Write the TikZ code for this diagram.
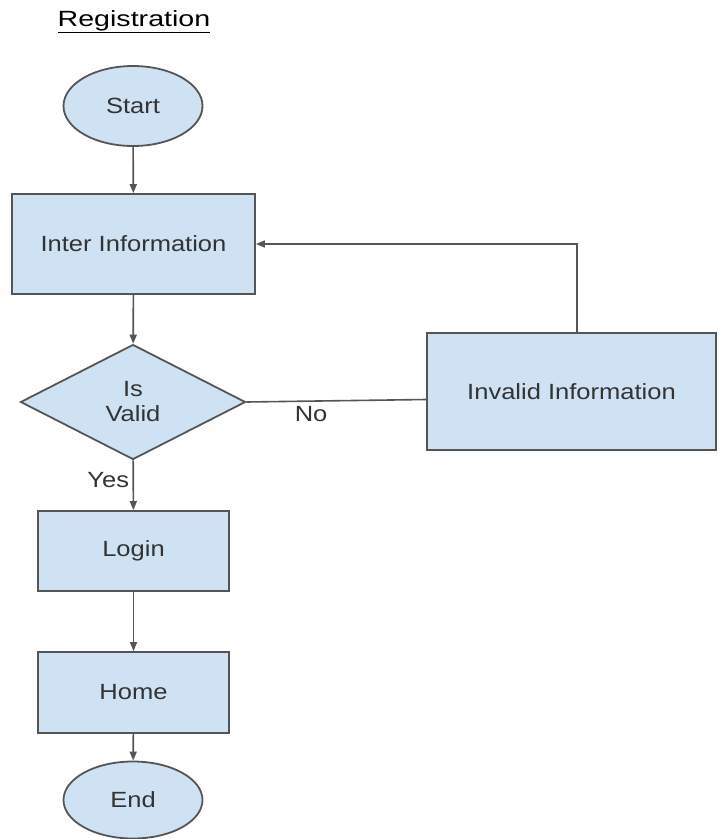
\documentclass[tikz,border=0pt]{standalone}
\usepackage{graphicx}
\usepackage{fontspec}
\setmainfont{Liberation Sans}
\usetikzlibrary{shapes.geometric,arrows.meta,calc}
\definecolor{boxfill}{HTML}{CFE2F3}
\definecolor{boxline}{HTML}{555555}
\definecolor{txt}{HTML}{333333}
\newcommand{\stretchtxt}[1]{\scalebox{1.16}[1]{#1}}
\begin{document}
\begin{tikzpicture}[x=1pt,y=-1pt,
  every node/.style={text=txt,font=\fontsize{22}{25}\selectfont},
  procbox/.style={draw=boxline,fill=boxfill,line width=1.8pt,rectangle,inner sep=0pt},
  termbox/.style={draw=boxline,fill=boxfill,line width=1.8pt,ellipse,inner sep=0pt,minimum width=139pt,minimum height=80pt},
  decbox/.style={draw=boxline,fill=boxfill,line width=1.8pt,diamond,inner sep=0pt,minimum width=225pt,minimum height=115pt,align=center},
  conn/.style={draw=boxline,line width=1.6pt},
  arr/.style={conn,-{Triangle[length=9pt,width=7pt]}},
  lbl/.style={text=txt}
]
\useasboundingbox (0,0) rectangle (718,839);
\node[text=black] (title) at (134,22) {\scalebox{1.3}[1]{\underline{Registration}}};
\node[termbox] (start) at (133,106) {\stretchtxt{Start}};
\node[procbox,minimum width=243pt,minimum height=100pt] (inter) at (133.5,244) {\stretchtxt{Inter Information}};
\node[decbox] (valid) at (133,402) {\stretchtxt{Is}\\\stretchtxt{Valid}};
\node[procbox,minimum width=289pt,minimum height=117pt] (inv) at (571.5,391.5) {\stretchtxt{Invalid Information}};
\node[procbox,minimum width=191pt,minimum height=80pt] (login) at (133.5,551) {\stretchtxt{Login}};
\node[procbox,minimum width=191pt,minimum height=81pt] (home) at (133.5,692.5) {\stretchtxt{Home}};
\node[termbox,minimum height=77pt] (end) at (133,800) {\stretchtxt{End}};
\draw[arr] (start) -- (inter);
\draw[arr] (inter) -- (valid);
\draw[arr] (valid) -- node[lbl,left,pos=0.4] (yes) {\stretchtxt{Yes}} (login);
\draw[conn] (valid.east) -- node[lbl,below,pos=0.36,yshift=-1pt] (no) {\stretchtxt{No}} ([yshift=-8pt]inv.west);
\draw[arr] ([xshift=5.5pt]inv.north) |- (inter.east);
\draw[arr] (login) -- (home);
\draw[arr] (home) -- (end);
\end{tikzpicture}
\end{document}
